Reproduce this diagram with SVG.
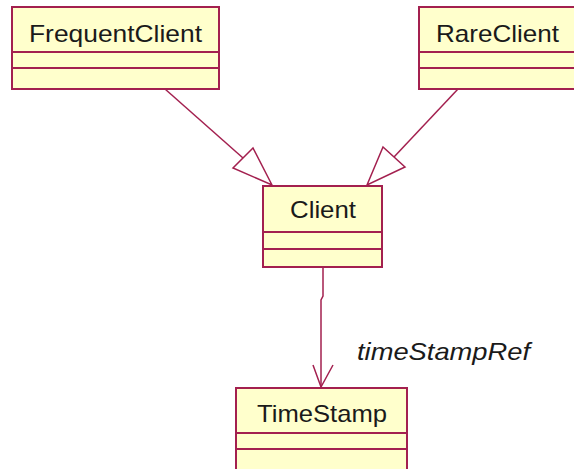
<svg xmlns="http://www.w3.org/2000/svg" width="574" height="469" viewBox="0 0 574 469">
<style>
.box{fill:#ffffcc;stroke:#a3204f;stroke-width:2}
.div{stroke:#a3204f;stroke-width:2}
.name{font-family:"Liberation Sans",Arial,sans-serif;font-size:24px;fill:#1a1a1a;text-anchor:middle}
.conn{stroke:#a3204f;stroke-width:1.5;fill:none}
.lbl{font-family:"Liberation Sans",Arial,sans-serif;font-size:24px;font-style:italic;fill:#1a1a1a}
</style>
<rect width="574" height="469" fill="#ffffff"/>
<g id="connectors">
<line class="conn" x1="165" y1="89" x2="243" y2="158"/>
<polygon class="conn" fill="#ffffff" points="272,185 253,148 233,168"/>
<line class="conn" x1="458" y1="89" x2="394" y2="157"/>
<polygon class="conn" fill="#ffffff" points="367,185 383,147 405,167"/>
<polyline class="conn" points="323,268 323,296 321,300 321,387"/>
<polyline class="conn" points="313,365 321,387 333,365"/>
<text class="lbl" x="357" y="360" textLength="173" lengthAdjust="spacingAndGlyphs">timeStampRef</text>
</g>
<g id="FrequentClient">
<rect class="box" x="12" y="7" width="207" height="82"/>
<line class="div" x1="12" y1="52" x2="219" y2="52"/>
<line class="div" x1="12" y1="68" x2="219" y2="68"/>
<text class="name" x="115.5" y="42" textLength="173" lengthAdjust="spacingAndGlyphs">FrequentClient</text>
</g>
<g id="RareClient">
<rect class="box" x="419" y="7" width="158" height="82"/>
<line class="div" x1="419" y1="52" x2="577" y2="52"/>
<line class="div" x1="419" y1="68" x2="577" y2="68"/>
<text class="name" x="497.5" y="42" textLength="123" lengthAdjust="spacingAndGlyphs">RareClient</text>
</g>
<g id="Client">
<rect class="box" x="263" y="186" width="119" height="81"/>
<line class="div" x1="263" y1="232" x2="382" y2="232"/>
<line class="div" x1="263" y1="249" x2="382" y2="249"/>
<text class="name" x="323" y="218" textLength="66" lengthAdjust="spacingAndGlyphs">Client</text>
</g>
<g id="TimeStamp">
<rect class="box" x="236" y="388" width="171" height="90"/>
<line class="div" x1="236" y1="433" x2="407" y2="433"/>
<line class="div" x1="236" y1="449" x2="407" y2="449"/>
<text class="name" x="322" y="422" textLength="130" lengthAdjust="spacingAndGlyphs">TimeStamp</text>
</g>
</svg>
